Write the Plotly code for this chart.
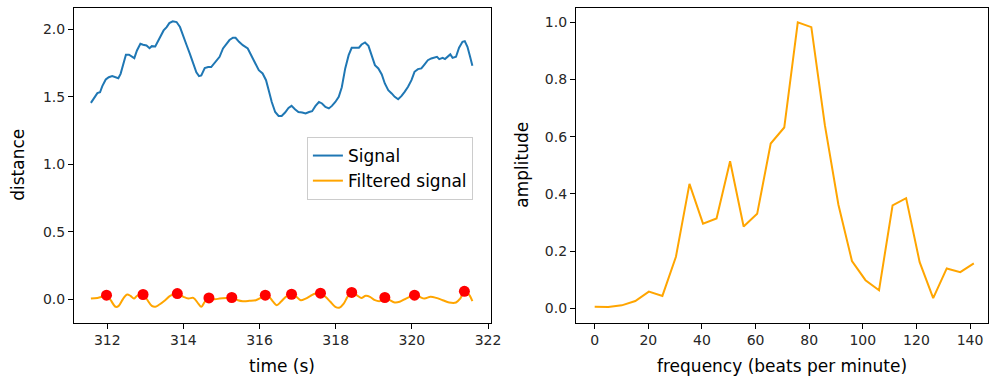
import plotly.graph_objects as go

# ---- data ----
signal_t = [311.57, 311.65, 311.74, 311.81, 311.87, 311.96, 312.04, 312.13, 312.22, 312.29,
            312.35, 312.42, 312.49, 312.57, 312.65, 312.71, 312.78, 312.87, 312.94, 313.03,
            313.11, 313.17, 313.26, 313.32, 313.39, 313.48, 313.56, 313.63, 313.72, 313.82,
            313.91, 314.00, 314.08, 314.17, 314.26, 314.34, 314.41, 314.47, 314.56, 314.65,
            314.73, 314.86, 314.95, 315.04, 315.13, 315.21, 315.30, 315.37, 315.46, 315.56,
            315.69, 315.78, 315.89, 315.98, 316.08, 316.17, 316.24, 316.32, 316.41, 316.50,
            316.58, 316.67, 316.76, 316.84, 316.93, 317.02, 317.12, 317.21, 317.30, 317.38,
            317.47, 317.56, 317.64, 317.73, 317.82, 317.90, 317.99, 318.08, 318.16, 318.25,
            318.34, 318.42, 318.51, 318.61, 318.68, 318.77, 318.86, 318.95, 319.03, 319.12,
            319.21, 319.29, 319.38, 319.47, 319.55, 319.64, 319.73, 319.81, 319.90, 319.99,
            320.07, 320.16, 320.25, 320.33, 320.42, 320.51, 320.59, 320.66, 320.72, 320.81,
            320.87, 320.94, 321.01, 321.07, 321.16, 321.24, 321.33, 321.39, 321.46, 321.53,
            321.59]
signal_v = [1.454, 1.489, 1.526, 1.533, 1.578, 1.627, 1.644, 1.652, 1.644, 1.637,
            1.669, 1.743, 1.810, 1.810, 1.793, 1.785, 1.842, 1.891, 1.884, 1.879,
            1.859, 1.874, 1.872, 1.904, 1.953, 1.990, 2.015, 2.044, 2.057, 2.052,
            2.015, 1.953, 1.884, 1.817, 1.743, 1.681, 1.652, 1.657, 1.711, 1.719,
            1.719, 1.763, 1.795, 1.857, 1.894, 1.919, 1.936, 1.936, 1.906, 1.881,
            1.857, 1.807, 1.746, 1.696, 1.672, 1.622, 1.548, 1.461, 1.387, 1.358,
            1.358, 1.383, 1.417, 1.432, 1.407, 1.387, 1.383, 1.376, 1.387, 1.393,
            1.432, 1.461, 1.450, 1.424, 1.413, 1.432, 1.461, 1.499, 1.570, 1.709,
            1.807, 1.862, 1.862, 1.862, 1.886, 1.901, 1.876, 1.807, 1.733, 1.709,
            1.664, 1.598, 1.548, 1.524, 1.499, 1.481, 1.506, 1.536, 1.573, 1.622,
            1.684, 1.704, 1.709, 1.738, 1.770, 1.783, 1.787, 1.795, 1.778, 1.787,
            1.778, 1.795, 1.813, 1.787, 1.795, 1.862, 1.906, 1.911, 1.869, 1.795,
            1.728]

filtered_t = [311.57, 311.74, 311.87, 311.98, 312.09, 312.22, 312.30, 312.42, 312.52, 312.61,
              312.70, 312.78, 312.94, 313.04, 313.17, 313.26, 313.37, 313.52, 313.65, 313.84,
              314.00, 314.13, 314.26, 314.39, 314.47, 314.56, 314.67, 314.82, 314.95, 315.13,
              315.27, 315.43, 315.56, 315.73, 315.90, 316.03, 316.15, 316.25, 316.36, 316.45,
              316.56, 316.69, 316.84, 316.97, 317.08, 317.21, 317.34, 317.47, 317.60, 317.73,
              317.86, 317.99, 318.09, 318.21, 318.31, 318.42, 318.55, 318.67, 318.79, 318.90,
              319.03, 319.16, 319.29, 319.42, 319.55, 319.68, 319.81, 319.94, 320.07, 320.20,
              320.33, 320.49, 320.64, 320.81, 320.98, 321.16, 321.27, 321.38, 321.48, 321.59]
filtered_v = [0.007, 0.012, 0.020, 0.032, -0.005, -0.054, -0.047, 0.007, 0.037, 0.027,
              0.007, 0.027, 0.037, 0.002, -0.047, -0.054, -0.037, -0.005, 0.027, 0.044,
              0.020, 0.007, 0.012, -0.030, -0.054, -0.017, 0.012, 0.002, 0.007, 0.012,
              0.015, -0.005, -0.012, -0.010, -0.005, 0.012, 0.032, 0.020, -0.017, -0.042,
              -0.017, 0.020, 0.039, 0.020, -0.005, 0.007, 0.027, 0.044, 0.047, 0.020,
              -0.017, -0.054, -0.061, -0.030, 0.020, 0.052, 0.032, 0.012, 0.027, 0.020,
              -0.005, -0.012, 0.015, -0.005, -0.022, -0.017, 0.002, 0.020, 0.032, 0.020,
              0.007, 0.020, 0.012, -0.005, -0.022, -0.022, 0.007, 0.061, 0.044, -0.012]

peak_t = [311.98, 312.94, 313.84, 314.67, 315.27, 316.15, 316.84, 317.60, 318.42, 319.29,
          320.07, 321.38]
peak_v = [0.032, 0.037, 0.044, 0.012, 0.015, 0.032, 0.039, 0.047, 0.052, 0.015,
          0.032, 0.061]

freq_bpm = [0.0, 5.05, 10.1, 15.15, 20.2, 25.25, 30.3, 35.35, 40.4, 45.45,
            50.5, 55.55, 60.6, 65.65, 70.7, 75.75, 80.8, 85.85, 90.9, 95.95,
            101.0, 106.05, 111.1, 116.15, 121.2, 126.25, 131.3, 136.35, 141.4]
amplitude = [0.005, 0.004, 0.010, 0.025, 0.058, 0.043, 0.180, 0.435, 0.296, 0.314,
             0.514, 0.286, 0.330, 0.576, 0.632, 1.000, 0.983, 0.640, 0.362, 0.165,
             0.098, 0.063, 0.360, 0.385, 0.161, 0.035, 0.139, 0.126, 0.157]

left_xticks = [312, 314, 316, 318, 320, 322]
left_yticks = [0.0, 0.5, 1.0, 1.5, 2.0]
right_xticks = [0, 20, 40, 60, 80, 100, 120, 140]
right_yticks = [0.0, 0.2, 0.4, 0.6, 0.8, 1.0]

# ---- figure ----
W, H = 1001, 379
BLUE = "#1f77b4"
ORANGE = "orange"
FONT = "DejaVu Sans"

fig = go.Figure()
fig.add_trace(go.Scatter(x=signal_t, y=signal_v, mode="lines", name="Signal",
                         line=dict(color=BLUE, width=2), xaxis="x", yaxis="y"))
fig.add_trace(go.Scatter(x=filtered_t, y=filtered_v, mode="lines", name="Filtered signal",
                         line=dict(color=ORANGE, width=2, shape="spline"), xaxis="x", yaxis="y"))
fig.add_trace(go.Scatter(x=peak_t, y=peak_v, mode="markers", showlegend=False,
                         marker=dict(color="red", size=11), xaxis="x", yaxis="y"))
fig.add_trace(go.Scatter(x=freq_bpm, y=amplitude, mode="lines", showlegend=False,
                         line=dict(color=ORANGE, width=2), xaxis="x2", yaxis="y2"))


def px_x(p):
    return p / W


def px_y(p):
    return 1 - p / H


axis_common = dict(showline=True, linecolor="black", linewidth=1, mirror=True,
                   ticks="outside", ticklen=5, tickwidth=1, tickcolor="black",
                   showgrid=False, zeroline=False,
                   tickfont=dict(family=FONT, size=14, color="#262626"))

ydom = [px_y(322.5), px_y(8)]
fig.update_layout(
    width=W, height=H,
    margin=dict(l=0, r=0, t=0, b=0),
    paper_bgcolor="white", plot_bgcolor="white",
    font=dict(family=FONT, size=14, color="black"),
    xaxis=dict(domain=[px_x(74.7), px_x(496)], range=[311.125, 322.08],
               tickvals=left_xticks, anchor="y", **axis_common),
    yaxis=dict(domain=ydom, range=[-0.17, 2.156], tickvals=left_yticks,
               tickformat=".1f", anchor="x", **axis_common),
    xaxis2=dict(domain=[px_x(581.7), px_x(998)], range=[-7.01, 146.7],
                tickvals=right_xticks, anchor="y2", **axis_common),
    yaxis2=dict(domain=ydom, range=[-0.05, 1.05], tickvals=right_yticks,
                tickformat=".1f", anchor="x2", **axis_common),
    showlegend=True,
    legend=dict(x=px_x(310), y=px_y(137), xanchor="left", yanchor="top",
                bgcolor="rgba(255,255,255,0.8)", bordercolor="#cccccc", borderwidth=1,
                font=dict(family=FONT, size=17, color="black"), tracegroupgap=2,
                itemwidth=30),
)

titles = [
    dict(text="time (s)", x=px_x(285), y=px_y(366), textangle=0),
    dict(text="distance", x=px_x(18), y=px_y(165), textangle=-90),
    dict(text="frequency (beats per minute)", x=px_x(790), y=px_y(366), textangle=0),
    dict(text="amplitude", x=px_x(527), y=px_y(165), textangle=-90),
]
for t in titles:
    fig.add_annotation(text=t["text"], x=t["x"], y=t["y"], xref="paper", yref="paper",
                       xanchor="center", yanchor="middle", showarrow=False,
                       textangle=t["textangle"],
                       font=dict(family=FONT, size=17, color="black"))

fig.write_html(
    "out.html",
    config={"responsive": False, "displayModeBar": False},
    post_script="document.body.style.margin='0';document.body.style.overflow='hidden';",
)
